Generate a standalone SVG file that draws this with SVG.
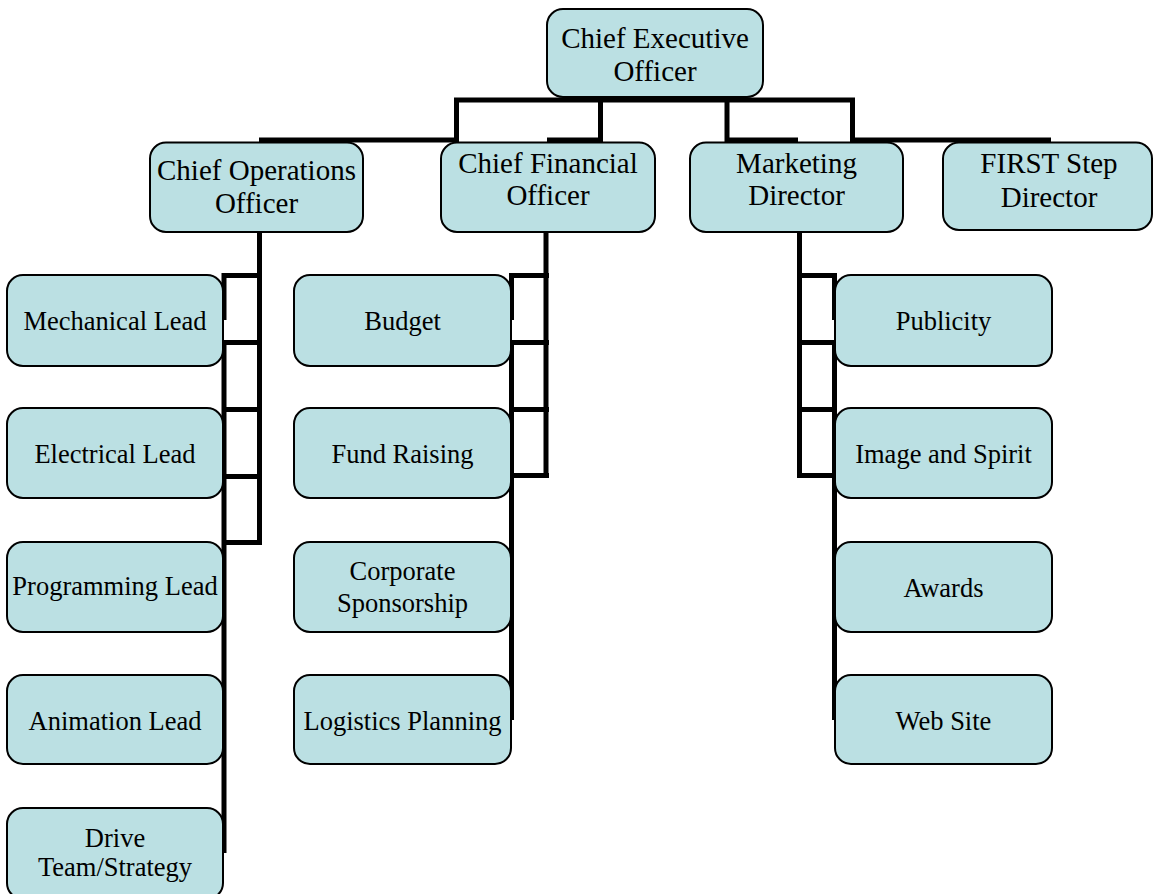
<svg xmlns="http://www.w3.org/2000/svg" width="1154" height="894" viewBox="0 0 1154 894">
<style>
.box{fill:#BBE0E3;stroke:#000;stroke-width:2}
.t1{font-family:"Liberation Serif","Times New Roman",serif;font-size:29px;fill:#000;text-anchor:middle}
.t2{font-family:"Liberation Serif","Times New Roman",serif;font-size:26.5px;fill:#000;text-anchor:middle}
.c{stroke:#000;stroke-width:5;fill:none}
</style>
<rect width="1154" height="894" fill="#fff"/>
<g id="connectors">
<path class="c" d="M454 100H855" stroke-width="6"/>
<path class="c" d="M456.5 100V142M600.5 100V142M727 100V142M852.5 100V142"/>
<path class="c" d="M259 140H459M547 140H603M725 140H798M850 140H1051"/>
<!-- left column -->
<path class="c" d="M259.5 232V545"/>
<path class="c" d="M224 273V320M224 340V853"/>
<path class="c" d="M222 275.5H262M222 342.5H262M222 409.5H262M222 476.5H262M222 542.5H262"/>
<!-- middle column -->
<path class="c" d="M546 232V478"/>
<path class="c" d="M511.5 273V320M511.5 340V720"/>
<path class="c" d="M509 275.5H549M509 342.5H549M509 409.5H549M509 475.5H549"/>
<!-- right column -->
<path class="c" d="M799.5 232V478"/>
<path class="c" d="M834.5 273V320M834.5 340V720"/>
<path class="c" d="M797 275.5H837M797 342.5H837M797 409.5H837M797 475.5H837"/>
</g>
<g id="ceo"><rect class="box" x="547" y="9" width="216" height="88" rx="16"/><text class="t1" x="655" y="48">Chief Executive</text><text class="t1" x="655" y="81">Officer</text></g>
<g id="coo"><rect class="box" x="150" y="142.5" width="213" height="89.5" rx="16"/><text class="t1" x="256.5" y="180">Chief Operations</text><text class="t1" x="256.5" y="213">Officer</text></g>
<g id="cfo"><rect class="box" x="441" y="142.5" width="214" height="89.5" rx="16"/><text class="t1" x="548" y="173">Chief Financial</text><text class="t1" x="548" y="205">Officer</text></g>
<g id="marketing"><rect class="box" x="690" y="142.5" width="213" height="89.5" rx="16"/><text class="t1" x="796.5" y="173">Marketing</text><text class="t1" x="796.5" y="205">Director</text></g>
<g id="firststep"><rect class="box" x="943" y="142.5" width="209" height="87.5" rx="16"/><text class="t1" x="1049" y="173">FIRST Step</text><text class="t1" x="1049" y="207">Director</text></g>
<g id="mechanical"><rect class="box" x="7" y="275" width="216" height="91" rx="16"/><text class="t2" x="115" y="330">Mechanical Lead</text></g>
<g id="electrical"><rect class="box" x="7" y="408" width="216" height="90" rx="16"/><text class="t2" x="115" y="463">Electrical Lead</text></g>
<g id="programming"><rect class="box" x="7" y="542" width="216" height="90" rx="16"/><text class="t2" x="115" y="595">Programming Lead</text></g>
<g id="animation"><rect class="box" x="7" y="675" width="216" height="89" rx="16"/><text class="t2" x="115" y="730">Animation Lead</text></g>
<g id="drive"><rect class="box" x="7" y="808" width="216" height="91" rx="16"/><text class="t2" x="115" y="847">Drive</text><text class="t2" x="115" y="876">Team/Strategy</text></g>
<g id="budget"><rect class="box" x="294" y="275" width="217" height="91" rx="16"/><text class="t2" x="402.5" y="330">Budget</text></g>
<g id="fundraising"><rect class="box" x="294" y="408" width="217" height="90" rx="16"/><text class="t2" x="402.5" y="463">Fund Raising</text></g>
<g id="corporate"><rect class="box" x="294" y="542" width="217" height="90" rx="16"/><text class="t2" x="402.5" y="580">Corporate</text><text class="t2" x="402.5" y="612">Sponsorship</text></g>
<g id="logistics"><rect class="box" x="294" y="675" width="217" height="89" rx="16"/><text class="t2" x="402.5" y="730">Logistics Planning</text></g>
<g id="publicity"><rect class="box" x="835" y="275" width="217" height="91" rx="16"/><text class="t2" x="943.5" y="330">Publicity</text></g>
<g id="image"><rect class="box" x="835" y="408" width="217" height="90" rx="16"/><text class="t2" x="943.5" y="463">Image and Spirit</text></g>
<g id="awards"><rect class="box" x="835" y="542" width="217" height="90" rx="16"/><text class="t2" x="943.5" y="597">Awards</text></g>
<g id="website"><rect class="box" x="835" y="675" width="217" height="89" rx="16"/><text class="t2" x="943.5" y="730">Web Site</text></g>
</svg>
